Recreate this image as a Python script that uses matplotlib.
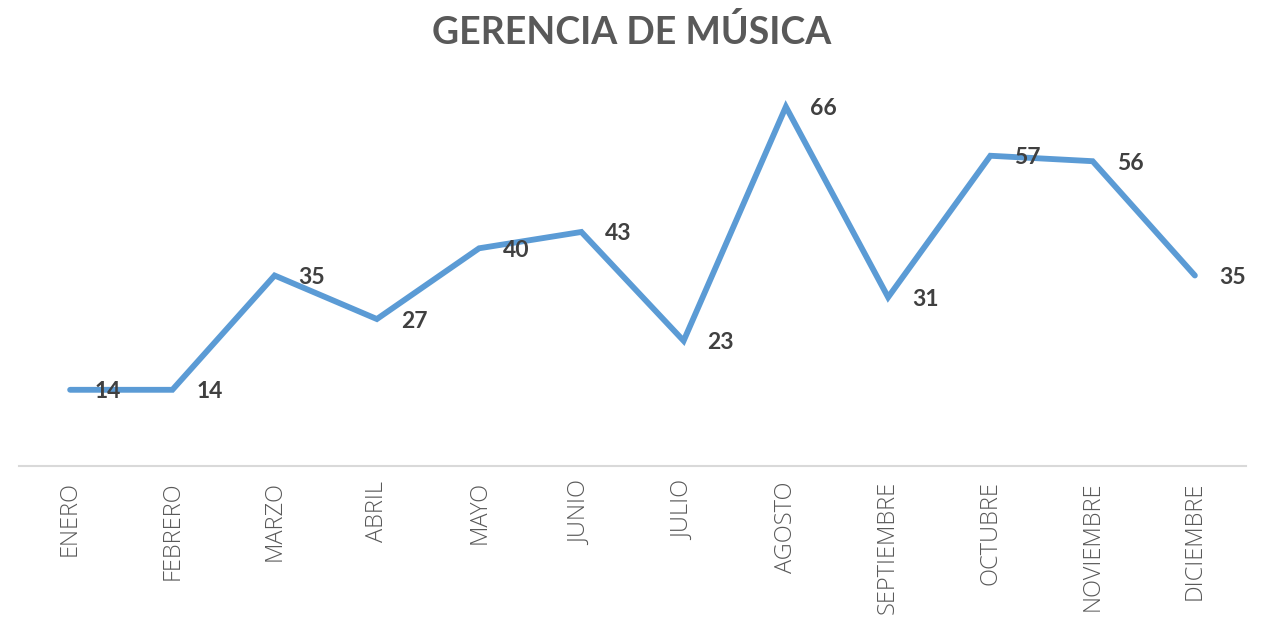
import matplotlib
matplotlib.use("Agg")
import matplotlib.pyplot as plt
from matplotlib.transforms import offset_copy

months = ["ENERO", "FEBRERO", "MARZO", "ABRIL", "MAYO", "JUNIO", "JULIO",
          "AGOSTO", "SEPTIEMBRE", "OCTUBRE", "NOVIEMBRE", "DICIEMBRE"]
values = [14, 14, 35, 27, 40, 43, 23, 66, 31, 57, 56, 35]
title = "GERENCIA DE MÚSICA"

W, H = 1266, 618
fig = plt.figure(figsize=(W / 100, H / 100), dpi=100)
left, right = 19 / W, 1246 / W
bottom = (H - 466) / H
top = (H - 85) / H
ax = fig.add_axes([left, bottom, right - left, top - bottom])

x = list(range(len(months)))
ax.plot(x, values, color="#5B9BD5", lw=4.2, solid_capstyle="round", solid_joinstyle="miter")
ax.set_xlim(-0.5, len(months) - 0.5)
ax.set_ylim(0, 70)

for xi, v in zip(x, values):
    tr = offset_copy(ax.transData, fig=fig, x=24, y=-2, units="dots")
    ax.text(xi, v, str(v), transform=tr, ha="left", va="center",
            fontsize=16.5, fontweight="bold", color="#404040", family="Lato")

for s in ["top", "right", "left"]:
    ax.spines[s].set_visible(False)
ax.spines["bottom"].set_color("#D9D9D9")
ax.spines["bottom"].set_linewidth(1.5)
ax.set_yticks([])
ax.set_xticks(x)
ax.set_xticklabels(months, rotation=90, fontsize=17, color="#595959",
                   family="Open Sans", fontweight=300, va="top")
ax.tick_params(axis="x", length=0, pad=11)

fig.text(632 / W, (H - 32) / H, title, ha="center", va="center",
         fontsize=27, fontweight="bold", color="#595959", family="Lato")

fig.savefig("out.png", dpi=100)
